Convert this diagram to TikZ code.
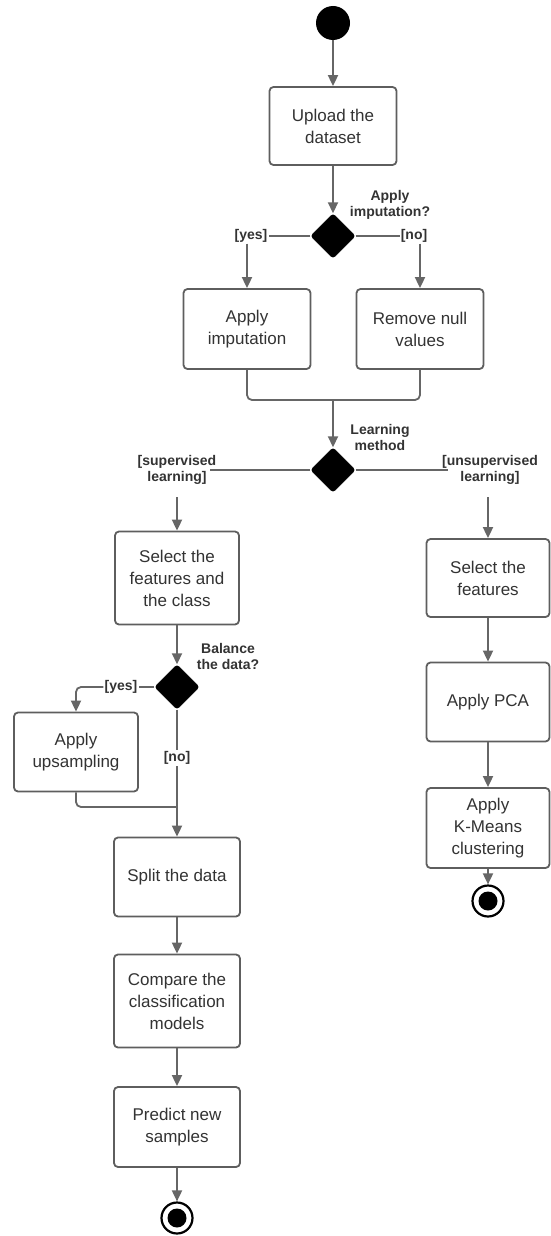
\documentclass[tikz,border=0pt]{standalone}
\usepackage{fontspec}
\setmainfont{Liberation Sans}
\usetikzlibrary{arrows.meta,shapes.geometric}
\definecolor{ln}{HTML}{666666}
\definecolor{bd}{HTML}{5E5E5E}
\definecolor{tx}{HTML}{333333}
\tikzset{
  act/.style={draw=bd,line width=1.8pt,rounded corners=4pt,fill=white,text=tx,
    align=center,inner sep=0pt,font=\fontsize{17}{22}\selectfont},
  dec/.style={diamond,fill=black,draw=black,rounded corners=3pt,minimum width=45pt,minimum height=45pt,inner sep=0pt},
  lbl/.style={font=\bfseries\fontsize{14}{16}\selectfont,text=tx,align=center,inner sep=1pt},
  flow/.style={draw=ln,line width=1.8pt,-{Triangle[length=11pt,width=10pt]}},
  seg/.style={draw=ln,line width=1.8pt},
  startdot/.style={circle,fill=black,minimum size=34pt,inner sep=0pt},
  enddot/.style={circle,draw=black,line width=2.2pt,fill=white,minimum size=31pt,inner sep=0pt,
    path picture={\fill[black] (path picture bounding box.center) circle (9.5pt);}}
}
\begin{document}
\begin{tikzpicture}[x=1pt,y=-1pt]
\useasboundingbox (0,0) rectangle (551,1236);
% nodes
\node[startdot] (start) at (333,23) {};
\node[act,minimum width=127pt,minimum height=78pt] (upload) at (333,126) {Upload the\\dataset};
\node[dec] (d1) at (333,236) {};
\node[lbl] (q1) at (390,205) {Apply\\imputation?};
\node[lbl] (yes1) at (251,236) {[yes]};
\node[lbl] (no1) at (414,236) {[no]};
\node[act,minimum width=127pt,minimum height=80pt] (imp) at (247,329) {Apply\\imputation};
\node[act,minimum width=127pt,minimum height=80pt] (rem) at (420,329) {Remove null\\values};
\coordinate (j1) at (333,400);
\node[dec] (d2) at (333,470) {};
\node[lbl] (q2) at (380,437) {Learning\\method};
\node[lbl] (sup) at (177,470) {[supervised\\learning]};
\node[lbl] (uns) at (490,470) {[unsupervised\\learning]};
\coordinate (supend) at (210,470);
\coordinate (unsend) at (448,470);
\coordinate (supdown) at (177,497);
\coordinate (unsdown) at (488,497);
% supervised branch
\node[act,minimum width=124pt,minimum height=93pt] (selfc) at (177,578) {Select the\\features and\\the class};
\node[dec] (d3) at (177,687) {};
\node[lbl] (q3) at (228,656) {Balance\\the data?};
\node[lbl] (yes3) at (121,687) {[yes]};
\coordinate (yesturn) at (76,687);
\node[act,minimum width=124pt,minimum height=79pt] (ups) at (76,752) {Apply\\upsampling};
\coordinate (j3) at (177,807);
\node[act,minimum width=126pt,minimum height=79pt] (split) at (177,877) {Split the data};
\node[act,minimum width=126pt,minimum height=93pt] (comp) at (177,1001) {Compare the\\classification\\models};
\node[act,minimum width=126pt,minimum height=80pt] (pred) at (177,1127) {Predict new\\samples};
\node[enddot] (end1) at (177,1218) {};
% unsupervised branch
\node[act,minimum width=123pt,minimum height=78pt] (selu) at (488,578) {Select the\\features};
\node[act,minimum width=123pt,minimum height=79pt] (pca) at (488,702) {Apply PCA};
\node[act,minimum width=123pt,minimum height=80pt] (km) at (488,828) {Apply\\K-Means\\clustering};
\node[enddot] (end2) at (488,901) {};
% connectors
\draw[flow] (start) -- (upload);
\draw[flow] (upload) -- (d1);
\draw[seg] (d1.west) -- (yes1.east);
\draw[seg] (d1.east) -- (no1.west);
\draw[flow] (imp.north |- yes1.south) -- (imp.north);
\draw[flow] (rem.north |- no1.south) -- (rem.north);
\draw[seg,rounded corners=5pt] (imp.south) |- (j1);
\draw[seg,rounded corners=5pt] (rem.south) |- (j1);
\draw[flow] (j1) -- (d2.north);
\draw[seg] (d2.west) -- (supend);
\draw[seg] (d2.east) -- (unsend);
\draw[flow] (supdown) -- (selfc.north);
\draw[flow] (unsdown) -- (selu.north);
\draw[flow] (selfc) -- (d3);
\draw[seg] (d3.west) -- (yes3.east);
\draw[flow,rounded corners=5pt] (yes3.west) -- (yesturn) -- (ups.north);
\draw[seg,rounded corners=5pt] (ups.south) |- (j3);
\draw[flow] (d3.south) -- (split.north);
\node[lbl,fill=white] (no3) at (177,758) {[no]};
\draw[flow] (split) -- (comp);
\draw[flow] (comp) -- (pred);
\draw[flow] (pred) -- (end1);
\draw[flow] (selu) -- (pca);
\draw[flow] (pca) -- (km);
\draw[flow] (km) -- (end2);
\end{tikzpicture}
\end{document}
